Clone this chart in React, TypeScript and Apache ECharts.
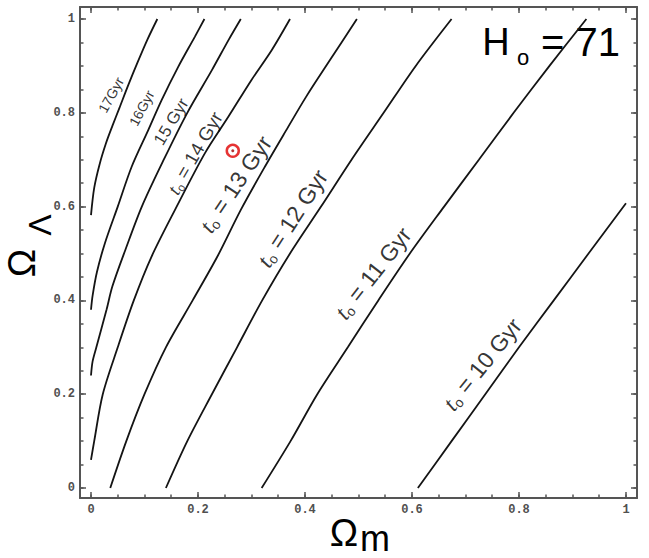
import React, { useEffect, useRef } from 'react';
import * as echarts from 'echarts';

// Contour lines of the age of the universe t0 (Gyr) in the (Omega_m, Omega_Lambda) plane, H0 = 71
const gyr17: number[][] = [[0, 0.582], [0.006, 0.64], [0.016, 0.69], [0.028, 0.735], [0.04, 0.772], [0.053, 0.81], [0.07, 0.86], [0.088, 0.91], [0.105, 0.955], [0.124, 1.0]];
const gyr16: number[][] = [[0, 0.38], [0.003, 0.41], [0.011, 0.46], [0.026, 0.522], [0.05, 0.6], [0.076, 0.685], [0.107, 0.763], [0.132, 0.827], [0.163, 0.898], [0.194, 0.962], [0.212, 1.0]];
const gyr15: number[][] = [[0, 0.24], [0.003, 0.27], [0.01, 0.3], [0.029, 0.38], [0.04, 0.43], [0.064, 0.507], [0.095, 0.6], [0.136, 0.7], [0.18, 0.8], [0.226, 0.891], [0.257, 0.955], [0.28, 1.0]];
const gyr14: number[][] = [[0, 0.06], [0.006, 0.1], [0.022, 0.2], [0.05, 0.3], [0.08, 0.4], [0.113, 0.493], [0.157, 0.593], [0.213, 0.714], [0.257, 0.792], [0.3, 0.87], [0.338, 0.934], [0.372, 1.0]];
const gyr13: number[][] = [[0.036, 0], [0.066, 0.1], [0.1, 0.2], [0.14, 0.3], [0.19, 0.4], [0.236, 0.493], [0.28, 0.593], [0.325, 0.685], [0.365, 0.763], [0.402, 0.834], [0.447, 0.913], [0.497, 1.0]];
const gyr12: number[][] = [[0.14, 0], [0.18, 0.1], [0.226, 0.2], [0.273, 0.3], [0.32, 0.4], [0.372, 0.5], [0.43, 0.6], [0.487, 0.7], [0.547, 0.8], [0.607, 0.9], [0.674, 1.0]];
const gyr11: number[][] = [[0.319, 0], [0.373, 0.1], [0.423, 0.2], [0.48, 0.3], [0.537, 0.4], [0.596, 0.5], [0.66, 0.6], [0.725, 0.7], [0.79, 0.8], [0.857, 0.9], [0.926, 1.0]];
const gyr10: number[][] = [[0.611, 0], [0.674, 0.1], [0.737, 0.2], [0.8, 0.3], [0.865, 0.4], [0.93, 0.5], [1.0, 0.607]];

const contours = [gyr17, gyr16, gyr15, gyr14, gyr13, gyr12, gyr11, gyr10];
const ages = ['17', '16', '15', '14', '13', '12', '11', '10'];

// where each contour label sits (data coordinates)
const labelAnchors: number[][] = [[0.0374, 0.838], [0.0947, 0.81], [0.15, 0.781], [0.194, 0.714], [0.27, 0.648], [0.376, 0.575], [0.527, 0.458], [0.731, 0.264]];

// the measured point (red ring)
const measured: number[][] = [[0.265, 0.719]];

const majorTicks = [0, 0.2, 0.4, 0.6, 0.8, 1];
const minorTicks = [0, 0.05, 0.1, 0.15, 0.2, 0.25, 0.3, 0.35, 0.4, 0.45, 0.5, 0.55, 0.6, 0.65, 0.7, 0.75, 0.8, 0.85, 0.9, 0.95, 1];
const hubble = '71';

// label styling (not data)
const labelLook = [
  { rotate: 61, size: 14, prefix: false, gap: '' },
  { rotate: 62, size: 14, prefix: false, gap: '' },
  { rotate: 59, size: 17, prefix: false, gap: ' ' },
  { rotate: 60, size: 19, prefix: true, gap: ' ' },
  { rotate: 56, size: 23, prefix: true, gap: ' ' },
  { rotate: 57, size: 23, prefix: true, gap: ' ' },
  { rotate: 52, size: 23, prefix: true, gap: ' ' },
  { rotate: 51, size: 23, prefix: true, gap: ' ' },
];

const X_MIN = -0.02056, X_MAX = 1.0206;
const Y_MIN = -0.0213, Y_MAX = 1.0256;
const FRAME = '#555';
const SANS = 'Liberation Sans, Arial, sans-serif';

function fmt(v: number) {
  if (v === 0) return '0';
  if (v === 1) return '1';
  return String(v);
}

export default function App() {
  const ref = useRef<HTMLDivElement>(null);
  useEffect(() => {
    document.body.style.margin = '0';
    if (!ref.current) return;
    const chart = echarts.init(ref.current, undefined, { renderer: 'svg' });
    const labelFont = { fontFamily: 'Liberation Mono, monospace', fontSize: 12, fontWeight: 'bold' as const, color: '#505050' };

    const mkAxis = (pos: string, ticks: number[], len: number, labels: boolean, line: boolean, isX: boolean) => ({
      type: 'value',
      position: pos,
      min: isX ? X_MIN : Y_MIN,
      max: isX ? X_MAX : Y_MAX,
      axisLine: { show: line, onZero: false, lineStyle: { color: FRAME, width: 2 } },
      axisTick: { show: true, inside: true, length: len, customValues: ticks, lineStyle: { color: FRAME, width: 1.5 } },
      axisLabel: labels
        ? { show: true, customValues: majorTicks, formatter: fmt, margin: isX ? 6 : 5, ...labelFont }
        : { show: false },
      splitLine: { show: false },
    });

    const lineSeries = contours.map((pts, i) => ({
      type: 'line',
      name: ages[i] + ' Gyr',
      data: pts,
      showSymbol: false,
      smooth: 0.3,
      silent: true,
      lineStyle: { color: '#141414', width: 1.8 },
    }));

    const labelData = labelAnchors.map((p, i) => {
      const lk = labelLook[i];
      const s = lk.size;
      const body = ages[i] + lk.gap + 'Gyr';
      const formatter = lk.prefix ? `{t|t}{o|o}{n| = ${body}}` : `{n|${body}}`;
      return {
        value: p,
        label: {
          show: true,
          position: 'inside',
          rotate: lk.rotate,
          formatter,
          rich: {
            t: { fontSize: s * 1.05, fontStyle: 'italic', fontFamily: 'Liberation Serif, serif', color: '#000' },
            o: { fontSize: s * 0.6, fontFamily: SANS, color: '#000', padding: [s * 0.55, 1, 0, 0] },
            n: { fontSize: s, fontFamily: SANS, color: '#000' },
          },
        },
      };
    });

    const txt = (text: string, x: number, y: number, size: number, extra: any = {}) => ({
      type: 'text',
      x,
      y,
      ...extra,
      style: { text, fontSize: size, fontFamily: SANS, fill: '#000', align: 'center', verticalAlign: 'middle', ...(extra.style || {}) },
    });

    chart.setOption({
      animation: false,
      backgroundColor: '#fff',
      grid: { left: 80, right: 12, top: 7, bottom: 60, containLabel: false },
      xAxis: [
        mkAxis('bottom', majorTicks, 6, true, true, true),
        mkAxis('bottom', minorTicks, 3.5, false, false, true),
        mkAxis('top', majorTicks, 6, false, true, true),
        mkAxis('top', minorTicks, 3.5, false, false, true),
      ],
      yAxis: [
        mkAxis('left', majorTicks, 6, true, true, false),
        mkAxis('left', minorTicks, 3.5, false, false, false),
        mkAxis('right', majorTicks, 6, false, true, false),
        mkAxis('right', minorTicks, 3.5, false, false, false),
      ],
      series: [
        ...lineSeries,
        {
          type: 'scatter',
          name: 'labels',
          symbolSize: 0,
          silent: true,
          data: labelData,
          z: 5,
        },
        {
          type: 'scatter',
          name: 'measured',
          data: measured,
          symbol: 'circle',
          symbolSize: 12,
          silent: true,
          itemStyle: { color: '#ffffff', borderColor: '#e00000', borderWidth: 2.5 },
          z: 6,
        },
        {
          type: 'scatter',
          name: 'measured-dot',
          data: measured,
          symbol: 'circle',
          symbolSize: 3,
          silent: true,
          itemStyle: { color: '#a00000' },
          z: 7,
        },
      ],
      graphic: [
        txt('H', 496, 41.5, 38),
        txt('o', 523, 57, 22),
        { type: 'text', x: 541, y: 41.5, style: { text: `= ${hubble}`, fontSize: 40, fontFamily: SANS, fill: '#000', align: 'left', verticalAlign: 'middle' } },
        txt('Ω', 344, 532.5, 38),
        txt('m', 375, 538, 36),
        txt('Ω', 22, 263, 38, { rotation: Math.PI / 2 }),
        txt('Λ', 40, 225, 32, { rotation: Math.PI / 2 }),
      ],
    });
    return () => chart.dispose();
  }, []);
  return <div ref={ref} style={{ width: 649, height: 558 }} />;
}
